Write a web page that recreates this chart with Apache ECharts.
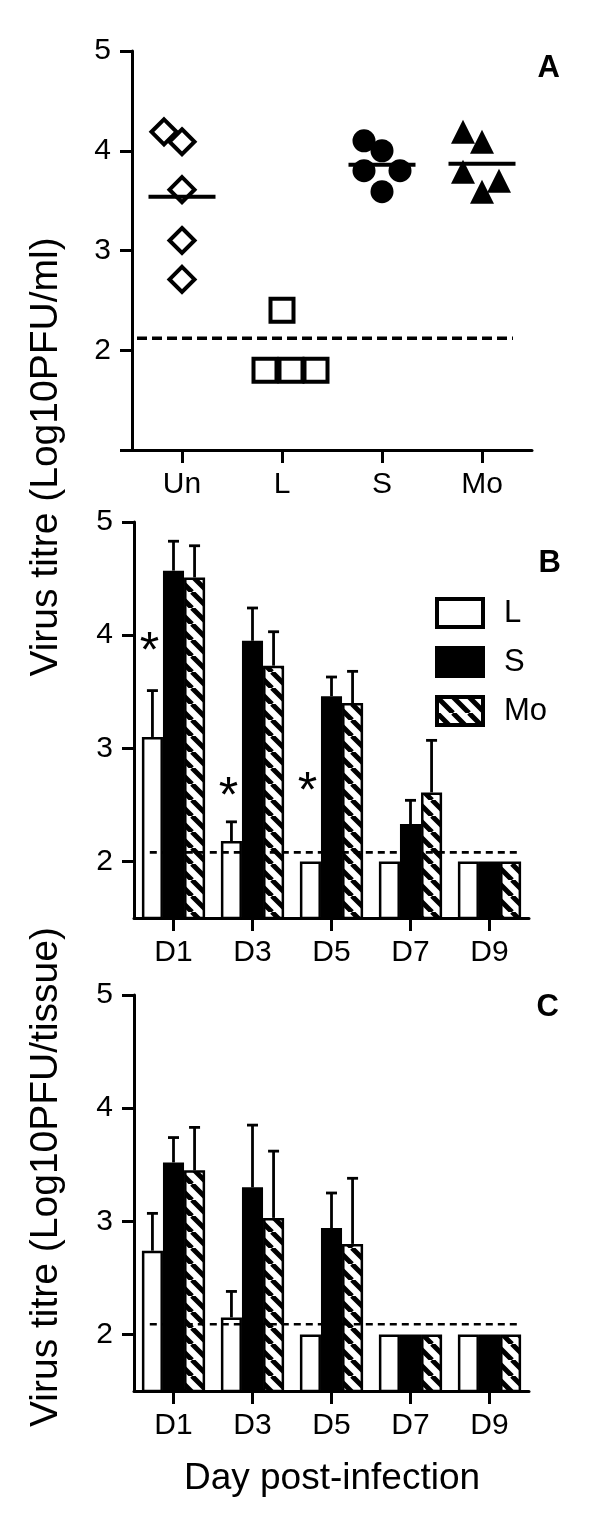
<!DOCTYPE html>
<html>
<head>
<meta charset="utf-8">
<script src="https://cdn.jsdelivr.net/npm/echarts@6/dist/echarts.min.js"></script>
<style>
html,body{margin:0;padding:0;background:#fff;}
#chart{width:600px;height:1536px;}
</style>
</head>
<body>
<div id="chart"></div>
<script>
// ---------- Panel A data ----------
const groupsA = ['Un', 'L', 'S', 'Mo'];
const unValues = [4.19, 4.09, 3.61, 3.10, 2.71];
const unJitter = [-0.18, 0, 0, 0, 0];
const lValues = [2.40, 1.80, 1.80, 1.80];
const lJitter = [0, -0.17, 0.09, 0.34];
const sValues = [4.10, 4.00, 3.80, 3.80, 3.59];
const sJitter = [-0.18, 0, -0.18, 0.18, 0];
const moValues = [4.19, 4.09, 3.79, 3.70, 3.59];
const moJitter = [-0.19, 0, -0.19, 0.17, 0];
const meanGroups = [0, 2, 3];
const meanValues = [3.54, 3.86, 3.87];
const limitA = 2.12;
const limitSpanA = [-0.45, 3.31];
const ticksA = [1, 2, 3, 4, 5];
const tickLabelsA = [2, 3, 4, 5];

// ---------- Panels B and C data ----------
const days = ['D1', 'D3', 'D5', 'D7', 'D9'];
const seriesNames = ['L', 'S', 'Mo'];
const bL = [3.10, 2.18, 2.00, 2.00, 2.00];
const bS = [4.57, 3.95, 3.46, 2.33, 2.00];
const bMo = [4.51, 3.73, 3.40, 2.61, 2.00];
const bLerr = [0.41, 0.17, 0, 0, 0];
const bSerr = [0.26, 0.29, 0.17, 0.21, 0];
const bMoerr = [0.28, 0.30, 0.28, 0.46, 0];
const starDaysB = [0, 1, 2];
const starValuesB = [3.94, 2.66, 2.70];
const limitB = 2.08;

const cL = [2.74, 2.15, 2.00, 2.00, 2.00];
const cS = [3.52, 3.30, 2.94, 2.00, 2.00];
const cMo = [3.45, 3.03, 2.80, 2.00, 2.00];
const cLerr = [0.33, 0.23, 0, 0, 0];
const cSerr = [0.22, 0.55, 0.31, 0, 0];
const cMoerr = [0.38, 0.59, 0.58, 0, 0];
const limitC = 2.09;
const limitSpanBC = [-0.30, 4.40];
const ticksBC = [2, 3, 4, 5];

// ---------- styling ----------
const FONT = "'Liberation Sans', Arial, Helvetica, sans-serif";
const BAR_CAT_GAP = 0.2;
const LABEL_SIZE = 30;

function makeHatch() {
  const s = 16;
  const cv = document.createElement('canvas');
  cv.width = s; cv.height = s;
  const ctx = cv.getContext('2d');
  ctx.fillStyle = '#fff';
  ctx.fillRect(0, 0, s, s);
  ctx.strokeStyle = '#000';
  ctx.lineWidth = 5;
  ctx.beginPath();
  for (let o = -s; o <= s; o += s) { ctx.moveTo(o, 0); ctx.lineTo(o + s, s); }
  ctx.stroke();
  return cv;
}
const hatch = { image: makeHatch(), repeat: 'repeat' };
const barColors = ['#fff', '#000', hatch];

function catAxis(grid, data) {
  return {
    type: 'category', gridIndex: grid, data: data, boundaryGap: true, z: 10,
    axisLine: { show: true, onZero: false, lineStyle: { color: '#000', width: 3 } },
    axisTick: { show: true, alignWithLabel: true, length: 13, lineStyle: { color: '#000', width: 3 } },
    axisLabel: { show: true, fontSize: LABEL_SIZE, color: '#000', fontFamily: FONT, margin: 20 },
    splitLine: { show: false }
  };
}
function hiddenValueX(grid, n) {
  return { type: 'value', gridIndex: grid, min: -0.5, max: n - 0.5, show: false };
}
function valAxis(grid, min, ticks, labels) {
  return {
    type: 'value', gridIndex: grid, min: min, max: 5, z: 10,
    axisLine: { show: true, onZero: false, lineStyle: { color: '#000', width: 3 } },
    axisTick: { show: true, length: 12, customValues: ticks, lineStyle: { color: '#000', width: 3 } },
    axisLabel: { show: true, customValues: labels, fontSize: LABEL_SIZE, color: '#000', fontFamily: FONT, margin: 21 },
    splitLine: { show: false }
  };
}

function scatterA(name, values, jitter, group, symbol, size, filled) {
  return {
    type: 'scatter', name: name, xAxisIndex: 1, yAxisIndex: 0, z: 3,
    symbol: symbol, symbolSize: size,
    itemStyle: { color: filled ? '#000' : '#fff', borderColor: '#000', borderWidth: filled ? 0 : 4, opacity: 1 },
    data: values.map((v, i) => [group + jitter[i], v]),
    silent: true
  };
}

function limitLine(xAxisIndex, yAxisIndex, span, value, width, dash) {
  return {
    type: 'line', xAxisIndex: xAxisIndex, yAxisIndex: yAxisIndex, z: 6,
    symbol: 'none', silent: true,
    lineStyle: { color: '#000', width: width, type: dash },
    data: [[span[0], value], [span[1], value]]
  };
}

function barSeries(xi, yi, k, values) {
  return {
    type: 'bar', name: seriesNames[k], xAxisIndex: xi, yAxisIndex: yi, z: 2,
    barGap: '0%', barCategoryGap: (BAR_CAT_GAP * 100) + '%',
    itemStyle: { color: barColors[k], borderColor: '#000', borderWidth: 2.5 },
    data: values, silent: true
  };
}

function errSeries(xi, yi, k, values, errs) {
  return {
    type: 'custom', xAxisIndex: xi, yAxisIndex: yi, z: 4, silent: true,
    encode: { x: 0, y: 1 },
    data: values.map((v, i) => [i, v, errs[i]]),
    renderItem: function (params, api) {
      const e = api.value(2);
      if (!e) return null;
      const i = api.value(0), v = api.value(1);
      const band = api.size([1, 0])[0];
      const bw = band * (1 - BAR_CAT_GAP) / 3;
      const p0 = api.coord([i, v]);
      const p1 = api.coord([i, v + e]);
      const x = p0[0] + (k - 1) * bw;
      return {
        type: 'group', children: [
          { type: 'line', shape: { x1: x, y1: p0[1], x2: x, y2: p1[1] }, style: { stroke: '#000', lineWidth: 2.8 } },
          { type: 'line', shape: { x1: x - 5.5, y1: p1[1], x2: x + 5.5, y2: p1[1] }, style: { stroke: '#000', lineWidth: 2.8 } }
        ]
      };
    }
  };
}

function starSeries(xi, yi, daysIdx, values) {
  return {
    type: 'custom', xAxisIndex: xi, yAxisIndex: yi, z: 5, silent: true,
    encode: { x: 0, y: 1 },
    data: daysIdx.map((d, j) => [d, values[j]]),
    renderItem: function (params, api) {
      const band = api.size([1, 0])[0];
      const bw = band * (1 - BAR_CAT_GAP) / 3;
      const p = api.coord([api.value(0), api.value(1)]);
      const fs = 50;
      return {
        type: 'text', x: p[0] - bw - 3, y: p[1] + fs * 0.22,
        style: { text: '*', font: fs + 'px ' + FONT, fill: '#000', align: 'center', verticalAlign: 'middle' }
      };
    }
  };
}

const meanSeries = {
  type: 'custom', xAxisIndex: 0, yAxisIndex: 0, z: 5, silent: true,
  encode: { x: 0, y: 1 },
  data: meanGroups.map((g, j) => [g, meanValues[j]]),
  renderItem: function (params, api) {
    const band = api.size([1, 0])[0];
    const p = api.coord([api.value(0), api.value(1)]);
    const half = band * 0.335;
    return { type: 'line', shape: { x1: p[0] - half, y1: p[1], x2: p[0] + half, y2: p[1] },
      style: { stroke: '#000', lineWidth: 4 } };
  }
};

const chart = echarts.init(document.getElementById('chart'), null, { renderer: 'canvas' });
chart.setOption({
  animation: false,
  backgroundColor: '#fff',
  textStyle: { fontFamily: FONT },
  grid: [
    { left: 132, top: 51, width: 400, height: 399, outerBoundsMode: 'none' },
    { left: 134, top: 522, width: 395, height: 396, outerBoundsMode: 'none' },
    { left: 134, top: 995, width: 395, height: 396, outerBoundsMode: 'none' }
  ],
  xAxis: [
    catAxis(0, groupsA), hiddenValueX(0, 4),
    catAxis(1, days), hiddenValueX(1, 5),
    catAxis(2, days), hiddenValueX(2, 5)
  ],
  yAxis: [
    valAxis(0, 1, ticksA, tickLabelsA),
    valAxis(1, 1.5, ticksBC, ticksBC),
    valAxis(2, 1.5, ticksBC, ticksBC)
  ],
  legend: {
    show: true, orient: 'vertical', left: 430, top: 592,
    itemWidth: 46, itemHeight: 28, itemGap: 17,
    data: seriesNames, selectedMode: false,
    icon: 'rect',
    itemStyle: { borderColor: '#000', borderWidth: 4 },
    textStyle: { fontSize: 31, color: '#000', fontFamily: FONT, padding: [0, 0, 0, 16] }
  },
  graphic: [
    { type: 'text', x: 46, y: 457, rotation: Math.PI / 2,
      style: { text: 'Virus titre (Log10PFU/ml)', font: '39px ' + FONT, fill: '#000', align: 'center', verticalAlign: 'middle' } },
    { type: 'text', x: 46, y: 1177, rotation: Math.PI / 2,
      style: { text: 'Virus titre (Log10PFU/tissue)', font: '39px ' + FONT, fill: '#000', align: 'center', verticalAlign: 'middle' } },
    { type: 'text', x: 332, y: 1479,
      style: { text: 'Day post-infection', font: '37px ' + FONT, fill: '#000', align: 'center', verticalAlign: 'middle' } },
    { type: 'text', x: 560, y: 68,
      style: { text: 'A', font: 'bold 31px ' + FONT, fill: '#000', align: 'right', verticalAlign: 'middle' } },
    { type: 'text', x: 561, y: 563,
      style: { text: 'B', font: 'bold 31px ' + FONT, fill: '#000', align: 'right', verticalAlign: 'middle' } },
    { type: 'text', x: 559, y: 1007,
      style: { text: 'C', font: 'bold 31px ' + FONT, fill: '#000', align: 'right', verticalAlign: 'middle' } }
  ],
  series: [
    // Panel A
    limitLine(1, 0, limitSpanA, limitA, 3.5, [10, 5]),
    scatterA('Un', unValues, unJitter, 0, 'diamond', 25, false),
    scatterA('L pts', lValues, lJitter, 1, 'rect', 23, false),
    scatterA('S pts', sValues, sJitter, 2, 'circle', 23, true),
    scatterA('Mo pts', moValues, moJitter, 3, 'triangle', 24, true),
    meanSeries,
    // Panel B
    barSeries(2, 1, 0, bL), barSeries(2, 1, 1, bS), barSeries(2, 1, 2, bMo),
    errSeries(2, 1, 0, bL, bLerr), errSeries(2, 1, 1, bS, bSerr), errSeries(2, 1, 2, bMo, bMoerr),
    starSeries(2, 1, starDaysB, starValuesB),
    limitLine(3, 1, limitSpanBC, limitB, 2.7, [7, 5]),
    // Panel C
    barSeries(4, 2, 0, cL), barSeries(4, 2, 1, cS), barSeries(4, 2, 2, cMo),
    errSeries(4, 2, 0, cL, cLerr), errSeries(4, 2, 1, cS, cSerr), errSeries(4, 2, 2, cMo, cMoerr),
    limitLine(5, 2, limitSpanBC, limitC, 2.7, [7, 5])
  ]
});
</script>
</body>
</html>
